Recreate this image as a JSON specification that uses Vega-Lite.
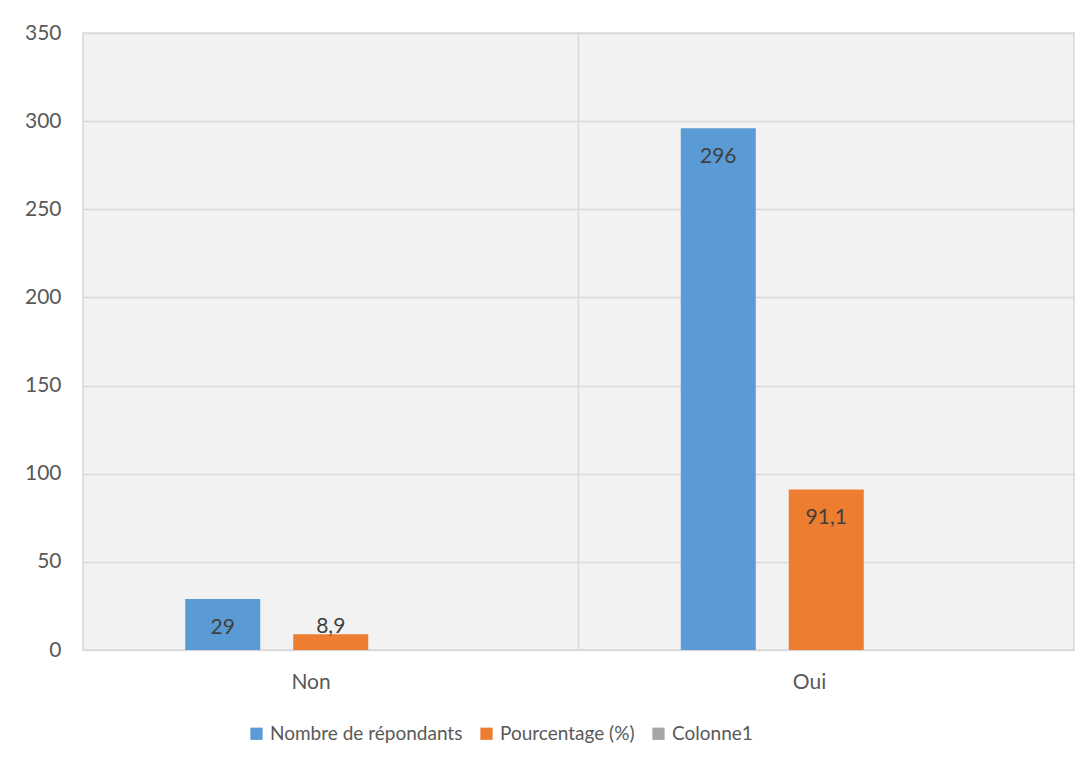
{
  "$schema": "https://vega.github.io/schema/vega-lite/v6.json",
  "autosize": "none",
  "width": 991,
  "height": 617,
  "padding": {"left": 83, "top": 33, "right": 18, "bottom": 117},
  "background": "white",
  "config": {
    "font": "Lato",
    "view": {"stroke": "#D9D9D9", "strokeWidth": 1.5, "fill": "#F2F2F2"},
    "locale": {"number": {"decimal": ",", "thousands": "\u00a0", "grouping": [3], "currency": ["", " €"]}}
  },
  "data": {
    "values": [
      {"cat": "Non", "serie": "Nombre de répondants", "value": 29},
      {"cat": "Non", "serie": "Pourcentage (%)", "value": 8.9},
      {"cat": "Oui", "serie": "Nombre de répondants", "value": 296},
      {"cat": "Oui", "serie": "Pourcentage (%)", "value": 91.1}
    ]
  },
  "layer": [
    {
      "data": {"values": [{"cat": "Oui"}]},
      "mark": {"type": "rule", "color": "#D9D9D9", "strokeWidth": 1.5},
      "encoding": {
        "x": {"field": "cat", "type": "nominal", "bandPosition": 0,
              "scale": {"domain": ["Non", "Oui"], "paddingInner": 0, "paddingOuter": 0}}
      }
    },
    {
      "mark": {"type": "bar"},
      "encoding": {
        "x": {"field": "cat", "type": "nominal",
              "scale": {"domain": ["Non", "Oui"], "paddingInner": 0, "paddingOuter": 0},
              "axis": {"title": null, "labelAngle": 0, "domain": false, "ticks": false, "grid": false,
                       "labelPadding": 38, "labelBaseline": "alphabetic", "labelFontSize": 21, "labelColor": "#595959"}},
        "xOffset": {"field": "serie", "type": "nominal",
                    "scale": {"domain": ["Nombre de répondants", "Pourcentage (%)", "Colonne1"], "paddingInner": 0.3056, "paddingOuter": 0.947}},
        "y": {"field": "value", "type": "quantitative",
              "scale": {"domain": [0, 350], "nice": false},
              "axis": {"title": null, "values": [0, 50, 100, 150, 200, 250, 300, 350], "domain": false, "ticks": false,
                       "gridColor": "#D9D9D9", "gridWidth": 1.5, "labelPadding": 22, "labelFontSize": 21, "labelColor": "#595959"}},
        "color": {"field": "serie", "type": "nominal",
                  "scale": {"domain": ["Nombre de répondants", "Pourcentage (%)", "Colonne1"], "range": ["#5B9BD5", "#ED7D31", "#A5A5A5"]},
                  "legend": {"title": null, "orient": "none", "legendX": 164, "legendY": 691, "direction": "horizontal",
                             "symbolType": "square", "symbolSize": 150, "symbolStrokeWidth": 0, "labelFontSize": 19,
                             "labelLimit": 400, "labelColor": "#595959", "labelOffset": 4, "columnPadding": 14}}
      }
    },
    {
      "transform": [{"filter": "datum.value >= 20"}],
      "mark": {"type": "text", "baseline": "alphabetic", "dy": 35, "fontSize": 21, "color": "#404040"},
      "encoding": {
        "x": {"field": "cat", "type": "nominal"},
        "xOffset": {"field": "serie", "type": "nominal"},
        "y": {"field": "value", "type": "quantitative"},
        "text": {"field": "value", "type": "quantitative", "format": ".3~r"}
      }
    },
    {
      "transform": [{"filter": "datum.value < 20"}],
      "mark": {"type": "text", "baseline": "alphabetic", "dy": -1, "fontSize": 21, "color": "#404040"},
      "encoding": {
        "x": {"field": "cat", "type": "nominal"},
        "xOffset": {"field": "serie", "type": "nominal"},
        "y": {"field": "value", "type": "quantitative"},
        "text": {"field": "value", "type": "quantitative", "format": ".3~r"}
      }
    }
  ]
}
